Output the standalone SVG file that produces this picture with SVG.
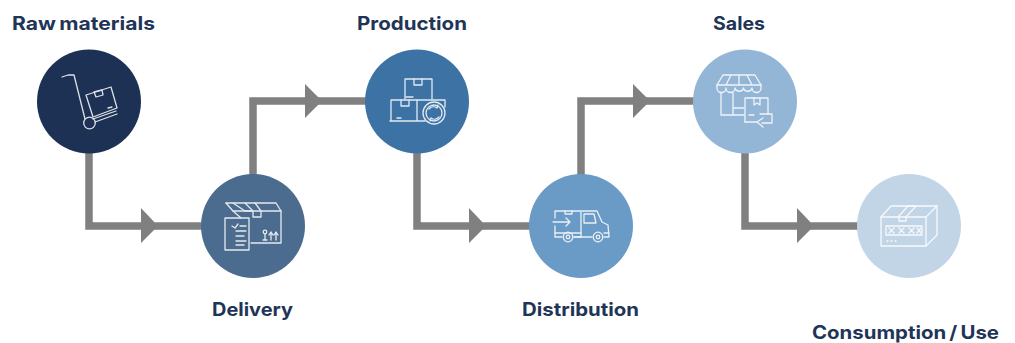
<svg xmlns="http://www.w3.org/2000/svg" width="1015" height="343" viewBox="0 0 1015 343">
<style>
.lbl{font-family:"Inter","Open Sans","Liberation Sans",sans-serif;font-weight:700;font-size:18.5px;fill:#1f3558;word-spacing:-1.5px}
.ic{fill:none;stroke:#fff;stroke-width:1.3;stroke-linejoin:round;stroke-linecap:round;opacity:.85}
.conn{fill:none;stroke:#808080;stroke-width:7.500;stroke-linejoin:miter}
.head{fill:#808080}
</style>
<defs>
<filter id="soft" x="-10%" y="-10%" width="120%" height="120%"><feGaussianBlur stdDeviation="0.35"/></filter>
</defs>
<rect width="1015" height="343" fill="#fff"/>
<g id="connectors">
<path class="conn" d="M89 150V226H202"/>
<path class="head" d="M141 208L158 226L141 243Z"/>
<path class="conn" d="M253 176V101H366"/>
<path class="head" d="M305 84L322 101L305 118Z"/>
<path class="conn" d="M417 150V226H530"/>
<path class="head" d="M469 208L486 226L469 243Z"/>
<path class="conn" d="M581 176V101H694"/>
<path class="head" d="M633 84L650 101L633 118Z"/>
<path class="conn" d="M745 150V226H858"/>
<path class="head" d="M797 208L814 226L797 243Z"/>
</g>
<g id="node-raw-materials">
<circle cx="89" cy="101.500" r="52" fill="#1c3153"/>
<g class="ic" filter="url(#soft)">
<path d="M62 77L68 75H74L85 119"/>
<circle cx="89.500" cy="123" r="5.800"/>
<path d="M95 122L117 114M93 119L116 111"/>
<path d="M86 95L111 87L117 108L93 117Z"/>
<path d="M94 92L102 90L103 95L96 97Z"/>
<path d="M108 108L112 107"/>
</g>
<text class="lbl" x="12" y="30" textLength="143" lengthAdjust="spacingAndGlyphs">Raw materials</text>
</g>
<g id="node-delivery">
<circle cx="253" cy="226" r="52" fill="#4b6c8f"/>
<g class="ic" filter="url(#soft)">
<path d="M233 211H281V243H251"/>
<path d="M226 203H276L281 211"/>
<path d="M226 203L233 211L241 218"/>
<path d="M233 203L245 211H253L245 203M255 203L261 211V217H253V211"/>
<path d="M225 218H249V250H225Z"/>
<path d="M232 226L235 228L238 224M240 226H246M236 231H246M236 236H244M236 241H246M236 245H244"/>
<circle cx="265" cy="232" r="1.800"/>
<path d="M265 234V240M263 240H267M271 240V232L269 235M271 232L273 235M276 240V232L274 235M276 232L278 235"/>
</g>
<text class="lbl" x="212" y="316" textLength="81" lengthAdjust="spacingAndGlyphs">Delivery</text>
</g>
<g id="node-production">
<circle cx="417" cy="101.500" r="52" fill="#3d72a5"/>
<g class="ic" filter="url(#soft)">
<path d="M405 99V79H432V99"/>
<path d="M414 79V85H422V79"/>
<path d="M391 121V100H445V107"/>
<path d="M390 121H425M417 100V121"/>
<path d="M401 100V106H409V100"/>
<path d="M397 118H401M406 97H413"/>
<circle cx="434" cy="113" r="11"/>
<circle cx="434" cy="113" r="8"/>
<path d="M429 109A6 6 0 0 1 437 108M439 117A6 6 0 0 1 431 118M437 108L438 105M431 118L430 121"/>
</g>
<text class="lbl" x="357" y="30" textLength="110" lengthAdjust="spacingAndGlyphs">Production</text>
</g>
<g id="node-distribution">
<circle cx="581" cy="226" r="52" fill="#6a9ac6"/>
<g class="ic" filter="url(#soft)">
<path d="M555 218V211H581V237H574M555 226V237H562"/>
<path d="M582 211H597L602 222L608 225L609 237H604M592 237H574"/>
<path d="M584 214H594L596 223H584Z"/>
<path d="M553 222H570M566 218L570 222L566 226"/>
<path d="M565 211V214H572V211"/>
<path d="M555 233H581M604 233H609"/>
<circle cx="568" cy="237" r="4.800"/>
<circle cx="568" cy="237" r="1.800"/>
<circle cx="598" cy="237" r="4.800"/>
<circle cx="598" cy="237" r="1.800"/>
</g>
<text class="lbl" x="522" y="316" textLength="117" lengthAdjust="spacingAndGlyphs">Distribution</text>
</g>
<g id="node-sales">
<circle cx="745" cy="101.500" r="52" fill="#93b5d6"/>
<g class="ic" filter="url(#soft)">
<path d="M723 75H755L761 85V88A4.400 4.400 0 0 1 752 88A4.400 4.400 0 0 1 743.500 88A4.400 4.400 0 0 1 735 88A4.400 4.400 0 0 1 726 88A4.400 4.400 0 0 1 717 88V85Z"/>
<path d="M717 85H761M731 75L726 85M739 75V85M747 75L752 85"/>
<path d="M721 93V115H744M733 93V115M733 108H744"/>
<path d="M745 122V98H768V114"/>
<path d="M754 98V105L757 103L760 105V98"/>
<path d="M749 115H754M745 122H757"/>
<path d="M772 114V123H762M757 122L763 118M757 122L763 127M772 114H760"/>
</g>
<text class="lbl" x="713" y="30" textLength="52" lengthAdjust="spacingAndGlyphs">Sales</text>
</g>
<g id="node-consumption">
<circle cx="909" cy="226" r="52" fill="#c2d5e7"/>
<g class="ic" filter="url(#soft)">
<path d="M881 217H926V246H881Z"/>
<path d="M881 217L891 206H937L926 217"/>
<path d="M937 206V235L926 246"/>
<path d="M898 217L908 206H916L906 217V221H899V217"/>
<path d="M886 226H922V235H886Z"/>
<path d="M889 228L894 233M894 228L889 233M899 228L904 233M904 228L899 233M909 228L914 233M914 228L909 233M917 228L921 233M921 228L917 233"/>
<path d="M887 241H888M891 241H892M895 241H896"/>
</g>
<text class="lbl" x="812" y="339" textLength="187" lengthAdjust="spacingAndGlyphs">Consumption / Use</text>
</g>
</svg>
